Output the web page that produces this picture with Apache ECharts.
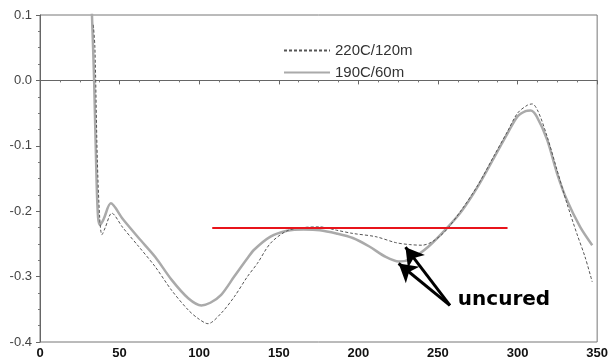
<!DOCTYPE html>
<html>
<head>
<meta charset="utf-8">
<script src="https://cdn.jsdelivr.net/npm/echarts@6/dist/echarts.min.js"></script>
<style>
html, body { margin: 0; padding: 0; background: #fff; }
#main { width: 611px; height: 363px; }
</style>
</head>
<body>
<div id="main"></div>
<script>
// 220C/120m (dotted, dark)
var cure220 = [
	[33.5, 0.085], [34.5, 0.05], [36, -0.12], [37.5, -0.21], [38.9, -0.236], [41, -0.225],
	[45.1, -0.203], [52, -0.225], [62, -0.254], [72.4, -0.285], [82.7, -0.321],
	[93.1, -0.351], [99.3, -0.364], [105.5, -0.372], [113.8, -0.356], [122, -0.331],
	[130.3, -0.300], [136.5, -0.280], [144.8, -0.249], [155.2, -0.230], [165.5, -0.225],
	[175.8, -0.224], [186.2, -0.229], [196.5, -0.234], [211, -0.239], [223.4, -0.248],
	[232, -0.251], [240, -0.252], [246.2, -0.247], [254.4, -0.231], [264.8, -0.198],
	[275.1, -0.160], [285.5, -0.114], [293.7, -0.078], [300, -0.050], [306.1, -0.038],
	[309.3, -0.036], [313, -0.048], [318.6, -0.086], [324.8, -0.137], [331, -0.188],
	[337.2, -0.234], [342.4, -0.270], [346.9, -0.308]
];
// 190C/60m (solid, light grey)
var cure190 = [
	[32.5, 0.11], [34, 0.0], [35.5, -0.15], [36.5, -0.21], [37.7, -0.221], [40, -0.212],
	[44.5, -0.188], [52, -0.212], [62, -0.241], [72.4, -0.270], [82.7, -0.305],
	[93.1, -0.333], [101.4, -0.344], [107, -0.340], [113.8, -0.328], [122, -0.300],
	[130.3, -0.272], [134.5, -0.259], [144.8, -0.239], [155.2, -0.230], [165.5, -0.228],
	[175.8, -0.229], [186.2, -0.234], [196.5, -0.241], [206.9, -0.254], [217.2, -0.270],
	[225.5, -0.277], [233.8, -0.272], [244.1, -0.254], [254.4, -0.229], [264.8, -0.200],
	[275.1, -0.162], [285.5, -0.117], [293.7, -0.081], [300, -0.055], [305, -0.047],
	[308.2, -0.046], [312, -0.055], [318.6, -0.091], [324.8, -0.142], [331, -0.183],
	[339.3, -0.224], [346.9, -0.252]
];
var seriesNames = ['220C/120m', '190C/60m'];
var redLevel = [[108.2, -0.225], [293.7, -0.225]];
var arrowTail = [257.5, -0.344];
var arrowTips = [[225.3, -0.280], [229.6, -0.255]];
var noteText = 'uncured';
var notePos = [262.5, -0.336];

var chart = echarts.init(document.getElementById('main'));

var option = {
	animation: false,
	backgroundColor: '#fff',
	textStyle: { fontFamily: 'Liberation Sans, Arial, sans-serif' },
	grid: {
		left: 40, right: 7, top: 15, bottom: 21,
		show: true, borderColor: '#777', borderWidth: 1
	},
	legend: {
		orient: 'vertical',
		left: 278, top: 38,
		itemWidth: 46, itemHeight: 10, itemGap: 7,
		itemStyle: { opacity: 0 },
		textStyle: { fontSize: 15, color: '#333', fontFamily: 'Liberation Sans, Arial, sans-serif' },
		data: seriesNames
	},
	xAxis: {
		type: 'value',
		min: 0, max: 350, interval: 50,
		axisLine: { lineStyle: { color: '#666' } },
		axisTick: { length: 4, lineStyle: { color: '#666' } },
		minorTick: { show: true, splitNumber: 4, length: 2, lineStyle: { color: '#777' } },
		splitLine: { show: false },
		axisLabel: { color: '#111', fontSize: 13, fontWeight: 'bold', margin: 5 }
	},
	yAxis: {
		type: 'value',
		min: -0.4, max: 0.1, interval: 0.1,
		axisLine: { show: true, lineStyle: { color: '#666' } },
		axisTick: { show: true, length: 4, lineStyle: { color: '#666' } },
		minorTick: { show: true, splitNumber: 4, length: 2, lineStyle: { color: '#777' } },
		splitLine: { show: false },
		axisLabel: {
			color: '#444', fontSize: 13, margin: 8,
			formatter: function (v) { return v.toFixed(1); }
		}
	},
	series: [
		{
			name: seriesNames[0],
			type: 'line',
			smooth: 0.3,
			symbol: 'none',
			lineStyle: { color: '#555', width: 1, type: [3, 2] },
			itemStyle: { color: '#555' },
			data: cure220,
			z: 3
		},
		{
			name: seriesNames[1],
			type: 'line',
			smooth: 0.3,
			symbol: 'none',
			lineStyle: { color: '#aaa', width: 2.5 },
			itemStyle: { color: '#aaa' },
			data: cure190,
			z: 2,
			markLine: {
				silent: true,
				animation: false,
				label: { show: false },
				data: [
					[
						{ coord: redLevel[0], symbol: 'none', lineStyle: { color: '#e8141b', width: 2, type: 'solid' } },
						{ coord: redLevel[1], symbol: 'none' }
					],
					[
						{ coord: arrowTail, symbol: 'none', lineStyle: { color: '#000', width: 3, type: 'solid' } },
						{ coord: arrowTips[0], symbol: 'arrow', symbolSize: [16, 18] }
					],
					[
						{ coord: arrowTail, symbol: 'none', lineStyle: { color: '#000', width: 3, type: 'solid' } },
						{ coord: arrowTips[1], symbol: 'arrow', symbolSize: [16, 18] }
					]
				]
			},
			markPoint: {
				silent: true,
				symbol: 'circle',
				symbolSize: 0,
				data: [{
					coord: notePos,
					label: {
						show: true,
						position: 'right',
						distance: 0,
						formatter: noteText,
						color: '#000',
						fontSize: 20,
						fontWeight: 'bold',
						fontFamily: 'DejaVu Sans, Verdana, sans-serif'
					}
				}]
			}
		}
	]
};

chart.setOption(option);
</script>
</body>
</html>
